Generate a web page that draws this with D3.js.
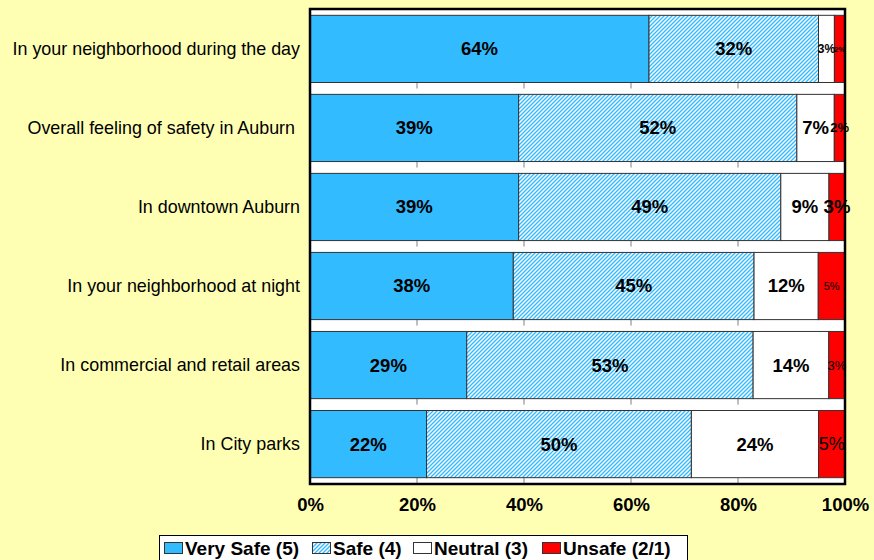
<!DOCTYPE html>
<html>
<head>
<meta charset="utf-8">
<script src="https://cdn.jsdelivr.net/npm/d3@7"></script>
<style>
  html, body { margin: 0; padding: 0; background: #FFFFB4; }
  svg { display: block; font-family: "Liberation Sans", Arial, sans-serif; }
</style>
</head>
<body>
<script>
// data
const categories = [
  "In your neighborhood during the day",
  "Overall feeling of safety in Auburn ",
  "In downtown Auburn",
  "In your neighborhood at night",
  "In commercial and retail areas",
  "In City parks"
];
const seriesNames = ["Very Safe (5)", "Safe (4)", "Neutral (3)", "Unsafe (2/1)"];
const verySafe = [64, 39, 39, 38, 29, 22];
const safe     = [32, 52, 49, 45, 53, 50];
const neutral  = [3, 7, 9, 12, 14, 24];
const unsafe   = [2, 2, 3, 5, 3, 5];
const xTicks = [0, 20, 40, 60, 80, 100];

const width = 874, height = 560;
const plotL = 310, plotR = 845, plotT = 9, plotB = 484;
const colors = ["#33BBFF", "url(#hatch)", "#FFFFFF", "#FF0000"];

// small segments got smaller labels in the original
const smallLabel = {
  "0-2": { size: 12, weight: "bold" },
  "0-3": { size: 8, weight: "bold" },
  "1-3": { size: 13, weight: "bold" },
  "3-3": { size: 11, weight: "normal" },
  "4-3": { size: 13, weight: "normal" },
  "5-3": { size: 18, weight: "normal" }
};

const keys = ["verySafe", "safe", "neutral", "unsafe"];
const rows = categories.map((c, i) => ({
  cat: c, verySafe: verySafe[i], safe: safe[i], neutral: neutral[i], unsafe: unsafe[i]
}));

const stack = d3.stack().keys(keys).offset(d3.stackOffsetExpand);
const layers = stack(rows);

const x = d3.scaleLinear().domain([0, 1]).range([plotL, plotR]);
const y = d3.scaleBand().domain(categories).range([plotT, plotB])
  .paddingInner(0.15).paddingOuter(0.08);

const svg = d3.select("body").append("svg")
  .attr("width", width).attr("height", height);

const defs = svg.append("defs");
const pat = defs.append("pattern").attr("id", "hatch")
  .attr("patternUnits", "userSpaceOnUse").attr("width", 4).attr("height", 4);
pat.append("rect").attr("width", 4).attr("height", 4).attr("fill", "#fff");
pat.append("path").attr("d", "M-1,1 l2,-2 M0,4 l4,-4 M3,5 l2,-2")
  .attr("stroke", "#33BBFF").attr("stroke-width", 1.4);

svg.append("rect").attr("width", width).attr("height", height).attr("fill", "#FFFFB4");

// plot area
svg.append("rect")
  .attr("x", plotL).attr("y", plotT)
  .attr("width", plotR - plotL).attr("height", plotB - plotT)
  .attr("fill", "#fff");

// short grid ticks under each bar
const gridG = svg.append("g");
categories.forEach(c => {
  gridG.selectAll(null).data(xTicks.slice(1, -1)).enter().append("line")
    .attr("x1", d => x(d / 100)).attr("x2", d => x(d / 100))
    .attr("y1", y(c) + y.bandwidth()).attr("y2", y(c) + y.bandwidth() + 6)
    .attr("stroke", "#808080").attr("stroke-width", 1);
});

const layerG = svg.append("g").selectAll("g").data(layers).enter().append("g")
  .attr("fill", (d, i) => colors[i]);

layerG.selectAll("rect").data(d => d).enter().append("rect")
  .attr("x", d => x(d[0]))
  .attr("y", d => y(d.data.cat))
  .attr("width", d => x(d[1]) - x(d[0]))
  .attr("height", y.bandwidth())
  .attr("stroke", "#333")
  .attr("stroke-width", 1);

// value labels
layers.forEach((layer, si) => {
  svg.append("g").selectAll("text").data(layer).enter().append("text")
    .attr("x", d => (x(d[0]) + x(d[1])) / 2)
    .attr("y", d => y(d.data.cat) + y.bandwidth() / 2)
    .attr("dy", "0.35em")
    .attr("text-anchor", "middle")
    .attr("font-size", (d, ri) => (smallLabel[ri + "-" + si] || { size: 18.5 }).size)
    .attr("font-weight", (d, ri) => (smallLabel[ri + "-" + si] || { weight: "bold" }).weight)
    .attr("fill", "#000")
    .text(d => d.data[keys[si]] + "%");
});

// plot border
svg.append("rect")
  .attr("x", plotL).attr("y", plotT)
  .attr("width", plotR - plotL).attr("height", plotB - plotT)
  .attr("fill", "none").attr("stroke", "#000").attr("stroke-width", 2.5);

// x axis
const xAxis = d3.axisBottom(x).tickValues(xTicks.map(d => d / 100))
  .tickFormat(d => Math.round(d * 100) + "%").tickSize(0).tickPadding(0);
const ax = svg.append("g").attr("transform", `translate(0,${plotB})`).call(xAxis);
ax.select(".domain").remove();
ax.selectAll("text")
  .attr("font-family", "Liberation Sans, Arial, sans-serif")
  .attr("font-size", 18.5).attr("font-weight", "bold").attr("fill", "#000")
  .attr("dy", null).attr("y", 27);

// category axis
const yAxis = d3.axisLeft(y).tickSize(0).tickPadding(10);
const ay = svg.append("g").attr("transform", `translate(${plotL},0)`).call(yAxis);
ay.select(".domain").remove();
ay.selectAll("text")
  .attr("font-family", "Liberation Sans, Arial, sans-serif")
  .attr("font-size", 17.9).attr("fill", "#000")
  .style("white-space", "pre");

// legend
const legend = svg.append("g");
legend.append("rect").attr("x", 159.5).attr("y", 535.5)
  .attr("width", 528).attr("height", 30)
  .attr("fill", "#fff").attr("stroke", "#000").attr("stroke-width", 1);
const legX = [164, 312, 413, 542];
seriesNames.forEach((name, i) => {
  legend.append("rect").attr("x", legX[i] + 0.5).attr("y", 542.5)
    .attr("width", 18).attr("height", 11)
    .attr("fill", colors[i]).attr("stroke", "#333").attr("stroke-width", 1);
  legend.append("text").attr("x", legX[i] + 21).attr("y", 555)
    .attr("font-size", 19).attr("font-weight", "bold").attr("fill", "#000")
    .text(name);
});
</script>
</body>
</html>
